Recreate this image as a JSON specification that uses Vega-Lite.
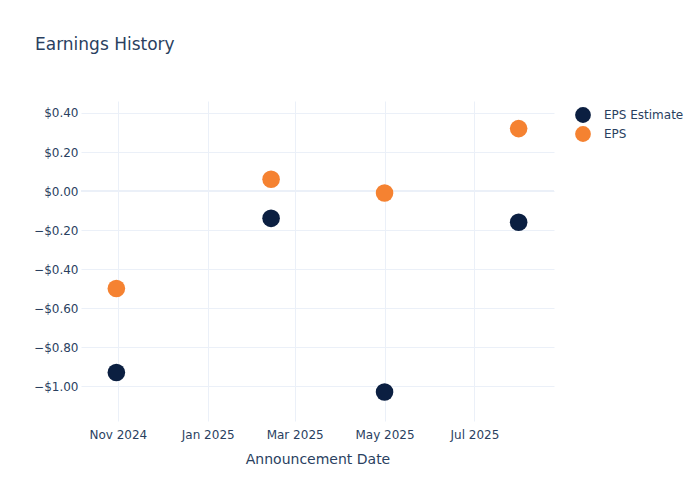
{
  "$schema": "https://vega.github.io/schema/vega-lite/v6.json",
  "width": 473,
  "height": 320,
  "autosize": {"type": "none"},
  "padding": {"left": 81, "top": 101, "right": 146, "bottom": 79},
  "background": "white",
  "config": {
    "font": "DejaVu Sans",
    "view": {"stroke": null},
    "axis": {"domain": false, "ticks": false, "gridColor": "#EBF0F8", "gridWidth": 1, "labelColor": "#2a3f5f", "labelFontSize": 12, "titleColor": "#2a3f5f", "titleFontWeight": "normal", "titleFontSize": 14}
  },
  "title": {"text": "Earnings History", "anchor": "start", "frame": "group", "dx": -46, "offset": 47, "fontSize": 17, "fontWeight": "normal", "color": "#2a3f5f"},
  "data": {"values": [
    {"date": "2024-10-31", "series": "EPS Estimate", "value": -0.93},
    {"date": "2025-02-13", "series": "EPS Estimate", "value": -0.14},
    {"date": "2025-05-01", "series": "EPS Estimate", "value": -1.03},
    {"date": "2025-07-31", "series": "EPS Estimate", "value": -0.16},
    {"date": "2024-10-31", "series": "EPS", "value": -0.50},
    {"date": "2025-02-13", "series": "EPS", "value": 0.06},
    {"date": "2025-05-01", "series": "EPS", "value": -0.01},
    {"date": "2025-07-31", "series": "EPS", "value": 0.32}
  ]},
  "layer": [
    {
      "mark": {"type": "rule", "color": "#EBF0F8", "strokeWidth": 2},
      "data": {"values": [{"z": 0}]},
      "encoding": {"y": {"field": "z", "type": "quantitative", "scale": {"domain": [-1.179, 0.4615]}}}
    },
    {
      "mark": {"type": "circle", "opacity": 1, "size": 310},
      "encoding": {
        "x": {"field": "date", "type": "temporal", "title": "Announcement Date",
          "scale": {"domain": ["2024-10-07", "2025-08-24"], "nice": false},
          "axis": {"format": "%b %Y", "labelPadding": 8, "titlePadding": 12, "labelAngle": 0,
            "values": [{"year": 2024, "month": 11, "date": 1}, {"year": 2025, "month": 1, "date": 1}, {"year": 2025, "month": 3, "date": 1}, {"year": 2025, "month": 5, "date": 1}, {"year": 2025, "month": 7, "date": 1}]}},
        "y": {"field": "value", "type": "quantitative", "title": null,
          "scale": {"domain": [-1.179, 0.4615], "nice": false, "zero": false},
          "axis": {"format": "$.2f", "values": [-1, -0.8, -0.6, -0.4, -0.2, 0, 0.2, 0.4], "labelPadding": 3}},
        "color": {"field": "series", "type": "nominal",
          "scale": {"domain": ["EPS Estimate", "EPS"], "range": ["#0b1f41", "#f58231"]},
          "legend": {"title": null, "orient": "none", "legendX": 493, "legendY": 5, "symbolSize": 250, "symbolOpacity": 1, "labelFontSize": 12, "labelColor": "#2a3f5f", "labelOffset": 12, "rowPadding": 2, "symbolType": "circle"}}
      }
    }
  ]
}
